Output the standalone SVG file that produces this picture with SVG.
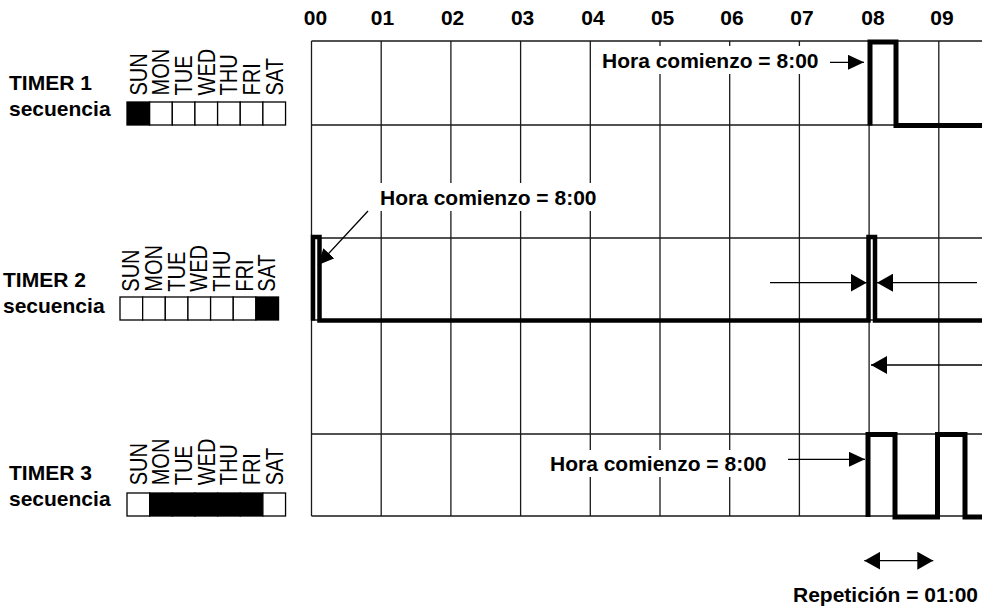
<svg xmlns="http://www.w3.org/2000/svg" width="982" height="608" viewBox="0 0 982 608">
  <defs>
    <style>
      .lbl{font-family:"Liberation Sans",Arial,Helvetica,sans-serif;font-weight:bold;font-size:21px;fill:#000}
      .hr{text-anchor:middle}
      .day{font-family:"Liberation Sans",Arial,Helvetica,sans-serif;font-size:23px;fill:#000}
      .grid{stroke:#1a1a1a;stroke-width:1.3;fill:none}
      .wave{stroke:#000;stroke-width:5;fill:none;stroke-linejoin:miter}
      .wave2{stroke-width:4.5}
      .box{fill:#fff;stroke:#000;stroke-width:1.3}
      .on{fill:#000}
      .lead{stroke:#000;stroke-width:1.3;fill:none}
      .mask{fill:#fff}
    </style>
    <marker id="head" markerUnits="userSpaceOnUse" markerWidth="16" markerHeight="15" refX="16" refY="7.5" orient="auto-start-reverse" viewBox="0 0 16 15">
      <path d="M0,0 L16,7.5 L0,15 z" fill="#000"/>
    </marker>
    <marker id="headL" markerUnits="userSpaceOnUse" markerWidth="16" markerHeight="18" refX="16" refY="9" orient="auto-start-reverse" viewBox="0 0 16 18">
      <path d="M0,0 L16,9 L0,18 z" fill="#000"/>
    </marker>
  </defs>

  <!-- hour axis -->
  <g id="hours" class="lbl hr">
    <text x="315.5" y="25">00</text>
    <text x="382.5" y="25">01</text>
    <text x="452.6" y="25">02</text>
    <text x="522.6" y="25">03</text>
    <text x="593" y="25">04</text>
    <text x="662.6" y="25">05</text>
    <text x="732" y="25">06</text>
    <text x="802" y="25">07</text>
    <text x="873" y="25">08</text>
    <text x="942" y="25">09</text>
  </g>

  <!-- time grid -->
  <g id="grid" class="grid">
    <path d="M311.5,41 V516 M381.2,41 V516 M450.9,41 V516 M520.6,41 V516 M590.3,41 V516 M660,41 V516 M729.7,41 V516 M799.4,41 V516 M869.1,41 V516 M938.8,41 V516"/>
    <path d="M311.5,41 H982 M311.5,125 H982 M311.5,238 H982 M311.5,320 H982 M311.5,434 H982 M311.5,516 H982"/>
  </g>

  <!-- label backgrounds over the grid -->
  <g id="label-masks" class="mask">
    <rect x="597" y="46" width="229" height="28"/>
    <rect x="376" y="183" width="228" height="28"/>
    <rect x="546" y="450" width="230" height="27"/>
  </g>

  <!-- output waveforms -->
  <g id="wave-timer1">
    <path class="wave" d="M870,125.5 V42 H896 V125.5 H982"/>
  </g>
  <g id="wave-timer2">
    <path class="wave wave2" d="M313,320.5 V237 H319.5 V320.5 H868.5 V237 H875 V320.5 H982"/>
  </g>
  <g id="wave-timer3">
    <path class="wave" d="M868,517 V434.5 H895 V517 H937.5 V434.5 H965 V517 H982"/>
  </g>

  <!-- TIMER 1 -->
  <g id="timer1">
    <text class="lbl" x="9" y="90">TIMER 1</text>
    <text class="lbl" x="9" y="115.5">secuencia</text>
    <g transform="translate(127,102)">
      <g class="day">
        <text transform="translate(19.6,-6.5) rotate(-90) scale(0.87,1)">SUN</text>
        <text transform="translate(42.25,-6.5) rotate(-90) scale(0.87,1)">MON</text>
        <text transform="translate(64.9,-6.5) rotate(-90) scale(0.87,1)">TUE</text>
        <text transform="translate(87.55,-6.5) rotate(-90) scale(0.87,1)">WED</text>
        <text transform="translate(110.2,-6.5) rotate(-90) scale(0.87,1)">THU</text>
        <text transform="translate(132.85,-6.5) rotate(-90) scale(0.87,1)">FRI</text>
        <text transform="translate(155.5,-6.5) rotate(-90) scale(0.87,1)">SAT</text>
      </g>
      <rect class="box on" x="0" y="0" width="22.65" height="23"/>
      <rect class="box" x="22.65" y="0" width="22.65" height="23"/>
      <rect class="box" x="45.3" y="0" width="22.65" height="23"/>
      <rect class="box" x="67.95" y="0" width="22.65" height="23"/>
      <rect class="box" x="90.6" y="0" width="22.65" height="23"/>
      <rect class="box" x="113.25" y="0" width="22.65" height="23"/>
      <rect class="box" x="135.9" y="0" width="22.65" height="23"/>
    </g>
  </g>

  <!-- TIMER 2 -->
  <g id="timer2">
    <text class="lbl" x="3" y="286.7">TIMER 2</text>
    <text class="lbl" x="3" y="312.5">secuencia</text>
    <g transform="translate(120,297)">
      <g class="day">
        <text transform="translate(19.3,-5.3) rotate(-90) scale(0.87,1)">SUN</text>
        <text transform="translate(41.95,-5.3) rotate(-90) scale(0.87,1)">MON</text>
        <text transform="translate(64.6,-5.3) rotate(-90) scale(0.87,1)">TUE</text>
        <text transform="translate(87.25,-5.3) rotate(-90) scale(0.87,1)">WED</text>
        <text transform="translate(109.9,-5.3) rotate(-90) scale(0.87,1)">THU</text>
        <text transform="translate(132.55,-5.3) rotate(-90) scale(0.87,1)">FRI</text>
        <text transform="translate(155.2,-5.3) rotate(-90) scale(0.87,1)">SAT</text>
      </g>
      <rect class="box" x="0" y="0" width="22.65" height="23"/>
      <rect class="box" x="22.65" y="0" width="22.65" height="23"/>
      <rect class="box" x="45.3" y="0" width="22.65" height="23"/>
      <rect class="box" x="67.95" y="0" width="22.65" height="23"/>
      <rect class="box" x="90.6" y="0" width="22.65" height="23"/>
      <rect class="box" x="113.25" y="0" width="22.65" height="23"/>
      <rect class="box on" x="135.9" y="0" width="22.65" height="23"/>
    </g>
  </g>

  <!-- TIMER 3 -->
  <g id="timer3">
    <text class="lbl" x="9" y="480">TIMER 3</text>
    <text class="lbl" x="9" y="505.5">secuencia</text>
    <g transform="translate(127,493)">
      <g class="day">
        <text transform="translate(19.6,-7.7) rotate(-90) scale(0.87,1)">SUN</text>
        <text transform="translate(42.25,-7.7) rotate(-90) scale(0.87,1)">MON</text>
        <text transform="translate(64.9,-7.7) rotate(-90) scale(0.87,1)">TUE</text>
        <text transform="translate(87.55,-7.7) rotate(-90) scale(0.87,1)">WED</text>
        <text transform="translate(110.2,-7.7) rotate(-90) scale(0.87,1)">THU</text>
        <text transform="translate(132.85,-7.7) rotate(-90) scale(0.87,1)">FRI</text>
        <text transform="translate(155.5,-7.7) rotate(-90) scale(0.87,1)">SAT</text>
      </g>
      <rect class="box" x="0" y="0" width="22.65" height="23"/>
      <rect class="box on" x="22.65" y="0" width="22.65" height="23"/>
      <rect class="box on" x="45.3" y="0" width="22.65" height="23"/>
      <rect class="box on" x="67.95" y="0" width="22.65" height="23"/>
      <rect class="box on" x="90.6" y="0" width="22.65" height="23"/>
      <rect class="box on" x="113.25" y="0" width="22.65" height="23"/>
      <rect class="box" x="135.9" y="0" width="22.65" height="23"/>
    </g>
  </g>

  <!-- annotation texts -->
  <g id="notes" class="lbl">
    <text x="602" y="68">Hora comienzo = 8:00</text>
    <text x="380" y="205">Hora comienzo = 8:00</text>
    <text x="550" y="470.7">Hora comienzo = 8:00</text>
    <text x="793" y="602">Repetición = 01:00</text>
  </g>

  <!-- connectors -->
  <g id="connectors" class="lead">
    <line x1="830" y1="62.3" x2="864" y2="62.3" marker-end="url(#head)"/>
    <line x1="368" y1="211" x2="318" y2="265" marker-end="url(#head)"/>
    <line x1="788" y1="459.3" x2="865" y2="459.3" marker-end="url(#head)"/>
    <line x1="770" y1="282.7" x2="866.7" y2="282.7" marker-end="url(#headL)"/>
    <line x1="977" y1="282.7" x2="877" y2="282.7" marker-end="url(#headL)"/>
    <line x1="982" y1="365" x2="871" y2="365" marker-end="url(#headL)"/>
    <line x1="864.3" y1="560.7" x2="933.3" y2="560.7" marker-start="url(#headL)" marker-end="url(#headL)"/>
  </g>
</svg>
